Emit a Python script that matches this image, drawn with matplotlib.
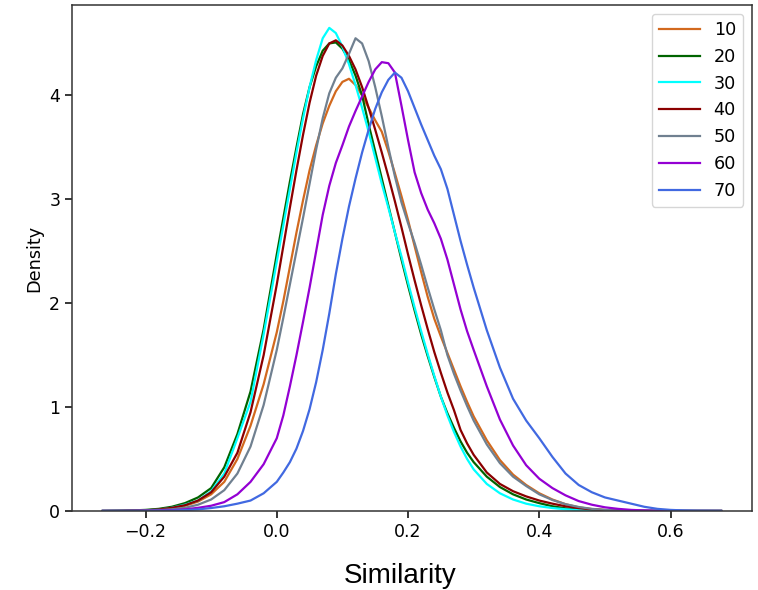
import matplotlib.pyplot as plt

# sample grid on the similarity axis
similarity = [-0.265, -0.24, -0.22, -0.20, -0.18, -0.16, -0.14, -0.12, -0.10, -0.08, -0.06, -0.04, -0.02, 0.00,
              0.01, 0.02, 0.03, 0.04, 0.05, 0.06, 0.07, 0.08, 0.09, 0.10,
              0.11, 0.12, 0.13, 0.14, 0.15, 0.16, 0.17, 0.18, 0.19, 0.20,
              0.21, 0.22, 0.23, 0.24, 0.25, 0.26, 0.27, 0.28, 0.29, 0.30,
              0.32, 0.34, 0.36, 0.38, 0.40, 0.42, 0.44, 0.46, 0.48, 0.50,
              0.52, 0.54, 0.56, 0.58, 0.60, 0.62, 0.64, 0.66, 0.677]

# density, one list per group
d10 = [0, 0.001, 0.002, 0.005, 0.012, 0.025, 0.05, 0.09, 0.16, 0.28, 0.50, 0.82, 1.22, 1.72,
       2.02, 2.35, 2.68, 2.99, 3.28, 3.52, 3.73, 3.90, 4.04, 4.13,
       4.16, 4.10, 4.00, 3.88, 3.76, 3.65, 3.46, 3.25, 3.03, 2.80,
       2.55, 2.30, 2.06, 1.85, 1.68, 1.52, 1.36, 1.20, 1.05, 0.91,
       0.68, 0.49, 0.35, 0.25, 0.17, 0.11, 0.065, 0.035, 0.018, 0.009,
       0.004, 0.002, 0.001, 0, 0, 0, 0, 0, 0]
d20 = [0, 0.002, 0.005, 0.01, 0.02, 0.04, 0.075, 0.13, 0.22, 0.42, 0.74, 1.15, 1.75, 2.47,
       2.82, 3.17, 3.50, 3.82, 4.08, 4.28, 4.43, 4.50, 4.51, 4.45,
       4.34, 4.19, 4.00, 3.72, 3.46, 3.20, 2.94, 2.68, 2.42, 2.17,
       1.93, 1.70, 1.49, 1.29, 1.10, 0.94, 0.80, 0.67, 0.56, 0.47,
       0.33, 0.23, 0.16, 0.11, 0.075, 0.045, 0.025, 0.013, 0.006, 0.003,
       0.001, 0, 0, 0, 0, 0, 0, 0, 0]
d30 = [0, 0.001, 0.002, 0.005, 0.012, 0.03, 0.06, 0.10, 0.19, 0.36, 0.70, 1.05, 1.70, 2.40,
       2.75, 3.10, 3.45, 3.78, 4.08, 4.34, 4.55, 4.65, 4.60, 4.47,
       4.30, 4.10, 3.88, 3.65, 3.40, 3.15, 2.92, 2.68, 2.45, 2.20,
       1.96, 1.73, 1.51, 1.30, 1.10, 0.92, 0.76, 0.62, 0.50, 0.40,
       0.26, 0.17, 0.11, 0.07, 0.045, 0.028, 0.016, 0.009, 0.005, 0.002,
       0.001, 0, 0, 0, 0, 0, 0, 0, 0]
d40 = [0, 0.001, 0.003, 0.006, 0.014, 0.03, 0.055, 0.10, 0.18, 0.33, 0.56, 0.95, 1.50, 2.18,
       2.55, 2.92, 3.28, 3.62, 3.93, 4.19, 4.38, 4.50, 4.53, 4.48,
       4.38, 4.25, 4.08, 3.88, 3.67, 3.45, 3.22, 2.98, 2.73, 2.47,
       2.22, 1.98, 1.75, 1.53, 1.33, 1.14, 0.97, 0.78, 0.65, 0.54,
       0.37, 0.26, 0.19, 0.14, 0.10, 0.07, 0.045, 0.027, 0.015, 0.008,
       0.004, 0.002, 0.001, 0, 0, 0, 0, 0, 0]
d50 = [0, 0.001, 0.002, 0.004, 0.008, 0.016, 0.03, 0.06, 0.11, 0.20, 0.36, 0.62, 1.02, 1.55,
       1.86, 2.18, 2.50, 2.82, 3.15, 3.48, 3.78, 4.02, 4.17, 4.26,
       4.40, 4.55, 4.50, 4.33, 4.08, 3.80, 3.50, 3.22, 2.97, 2.77,
       2.58, 2.37, 2.15, 1.94, 1.74, 1.50, 1.32, 1.16, 1.01, 0.87,
       0.64, 0.46, 0.33, 0.24, 0.16, 0.105, 0.065, 0.038, 0.02, 0.01,
       0.005, 0.002, 0.001, 0, 0, 0, 0, 0, 0]
d60 = [0, 0, 0.001, 0.002, 0.004, 0.008, 0.015, 0.03, 0.05, 0.085, 0.16, 0.28, 0.45, 0.70,
       0.92, 1.20, 1.50, 1.82, 2.15, 2.50, 2.85, 3.13, 3.35, 3.52,
       3.70, 3.85, 3.99, 4.13, 4.25, 4.32, 4.31, 4.22, 3.90, 3.57,
       3.26, 3.06, 2.90, 2.77, 2.62, 2.42, 2.18, 1.94, 1.73, 1.55,
       1.20, 0.88, 0.63, 0.44, 0.31, 0.22, 0.15, 0.095, 0.06, 0.035,
       0.02, 0.01, 0.005, 0.002, 0.001, 0, 0, 0, 0]
d70 = [0, 0, 0, 0.001, 0.002, 0.004, 0.008, 0.015, 0.028, 0.045, 0.07, 0.10, 0.17, 0.28,
       0.37, 0.47, 0.60, 0.77, 0.98, 1.24, 1.55, 1.90, 2.28, 2.62,
       2.93, 3.20, 3.45, 3.67, 3.87, 4.03, 4.15, 4.22, 4.17, 4.04,
       3.88, 3.72, 3.57, 3.42, 3.29, 3.10, 2.85, 2.60, 2.37, 2.15,
       1.74, 1.38, 1.08, 0.87, 0.70, 0.52, 0.36, 0.25, 0.18, 0.13,
       0.10, 0.07, 0.04, 0.02, 0.01, 0.005, 0.002, 0.001, 0]

labels = ['10', '20', '30', '40', '50', '60', '70']
colors = ['chocolate', 'darkgreen', 'cyan', 'darkred', 'slategrey', 'darkviolet', 'royalblue']
series = [d10, d20, d30, d40, d50, d60, d70]

fig, ax = plt.subplots(figsize=(7.58, 5.90), dpi=100)
fig.subplots_adjust(left=0.095, right=0.992, bottom=0.134, top=0.9915)

for dens, lab, col in zip(series, labels, colors):
    ax.plot(similarity, dens, color=col, lw=1.6, label=lab)

ax.set_xlim(-0.312, 0.724)
ax.set_ylim(0, 4.87)
ax.set_xticks([-0.2, 0.0, 0.2, 0.4, 0.6])
ax.set_yticks([0, 1, 2, 3, 4])
ax.tick_params(labelsize=12.5, length=5, width=1.1)
for s in ax.spines.values():
    s.set_linewidth(1.1)
    s.set_color('#333333')
ax.set_ylabel('Density', fontsize=12.7)

fig.text(400 / 758, 1 - 583 / 590, 'Similarity', ha='center', va='baseline',
         fontsize=20, family='Liberation Sans')

ax.legend(fontsize=12.7, handlelength=2.3, loc='upper right')

fig.savefig('out.png', dpi=100)
